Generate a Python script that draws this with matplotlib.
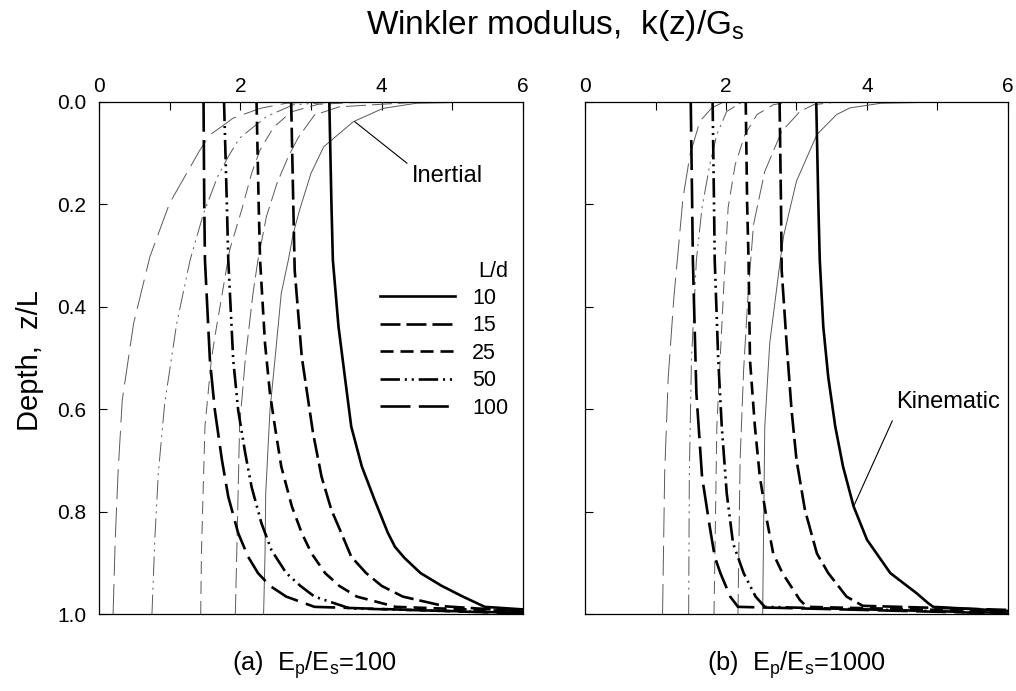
import matplotlib.pyplot as plt

# --- fonts / line defaults ---
plt.rcParams['font.family'] = ['Liberation Sans', 'DejaVu Sans']
plt.rcParams['mathtext.fontset'] = 'custom'
plt.rcParams['mathtext.rm'] = 'Liberation Sans'
plt.rcParams['mathtext.it'] = 'Liberation Sans:italic'
plt.rcParams['lines.scale_dashes'] = False

# --- data (z/L, k(z)/Gs) ---
LD_LABELS = ['10', '15', '25', '50', '100']
Y_TICKS = [0.0, 0.2, 0.4, 0.6, 0.8, 1.0]
X_MAJOR = [0, 2, 4, 6]
X_MINOR = [1, 3, 5]

# (a) Ep/Es=100, kinematic (thick)
ka10_z = [0.0, 0.2, 0.309, 0.439, 0.537, 0.634, 0.712, 0.777, 0.842, 0.869, 0.89, 0.92, 0.945, 0.966, 0.986, 0.991]
ka10_k = [3.26, 3.29, 3.31, 3.39, 3.48, 3.57, 3.72, 3.90, 4.09, 4.19, 4.32, 4.55, 4.85, 5.15, 5.46, 6.0]
ka15_z = [0.0, 0.2, 0.329, 0.498, 0.582, 0.647, 0.732, 0.797, 0.842, 0.888, 0.92, 0.945, 0.966, 0.985, 0.995]
ka15_k = [2.72, 2.75, 2.77, 2.87, 2.96, 3.03, 3.15, 3.29, 3.43, 3.57, 3.78, 4.00, 4.30, 4.90, 6.0]
ka25_z = [0.0, 0.2, 0.309, 0.472, 0.569, 0.634, 0.712, 0.79, 0.842, 0.882, 0.92, 0.945, 0.966, 0.986, 0.995]
ka25_k = [2.23, 2.26, 2.28, 2.35, 2.42, 2.49, 2.58, 2.73, 2.87, 3.01, 3.20, 3.40, 3.65, 4.20, 6.0]
ka50_z = [0.0, 0.2, 0.309, 0.504, 0.602, 0.686, 0.752, 0.823, 0.875, 0.92, 0.945, 0.966, 0.989, 0.998]
ka50_k = [1.77, 1.81, 1.83, 1.90, 1.97, 2.07, 2.16, 2.30, 2.44, 2.65, 2.85, 3.05, 3.55, 6.0]
ka100_z = [0.0, 0.2, 0.309, 0.504, 0.602, 0.699, 0.771, 0.842, 0.888, 0.92, 0.945, 0.966, 0.986, 0.999]
ka100_k = [1.48, 1.49, 1.50, 1.57, 1.64, 1.74, 1.83, 1.97, 2.11, 2.25, 2.42, 2.65, 3.05, 6.0]

# (a) Ep/Es=100, inertial (thin)
ia10_z = [1.0, 0.882, 0.764, 0.602, 0.504, 0.374, 0.309, 0.257, 0.211, 0.14, 0.088, 0.039, 0.013, 0.003, 0.0]
ia10_k = [2.33, 2.35, 2.36, 2.42, 2.49, 2.58, 2.68, 2.75, 2.84, 3.00, 3.18, 3.60, 4.02, 4.49, 5.6]
ia15_z = [1.0, 0.882, 0.634, 0.504, 0.374, 0.309, 0.224, 0.159, 0.107, 0.07, 0.026, 0.01, 0.0]
ia15_k = [1.93, 1.95, 1.99, 2.07, 2.18, 2.25, 2.37, 2.52, 2.68, 2.82, 3.05, 3.40, 4.6]
ia25_z = [1.0, 0.882, 0.634, 0.504, 0.459, 0.289, 0.211, 0.14, 0.094, 0.05, 0.02, 0.005, 0.0]
ia25_k = [1.44, 1.45, 1.50, 1.59, 1.64, 1.85, 2.02, 2.16, 2.28, 2.47, 2.72, 3.10, 3.9]
ia50_z = [1.0, 0.855, 0.725, 0.589, 0.433, 0.309, 0.218, 0.146, 0.107, 0.071, 0.029, 0.006, 0.0]
ia50_k = [0.75, 0.79, 0.84, 0.93, 1.10, 1.29, 1.48, 1.68, 1.83, 1.99, 2.37, 2.75, 3.4]
ia100_z = [1.0, 0.855, 0.725, 0.582, 0.433, 0.303, 0.198, 0.14, 0.094, 0.065, 0.032, 0.013, 0.003, 0.0]
ia100_k = [0.20, 0.23, 0.27, 0.33, 0.49, 0.72, 1.00, 1.24, 1.43, 1.57, 1.90, 2.28, 2.65, 3.1]

# (b) Ep/Es=1000, kinematic (thick)
kb10_z = [0.0, 0.2, 0.309, 0.439, 0.537, 0.634, 0.712, 0.79, 0.855, 0.92, 0.959, 0.979, 0.986, 0.994]
kb10_k = [3.28, 3.31, 3.33, 3.38, 3.45, 3.55, 3.66, 3.81, 4.00, 4.33, 4.70, 4.87, 4.94, 6.0]
kb15_z = [0.0, 0.2, 0.329, 0.472, 0.602, 0.699, 0.797, 0.882, 0.92, 0.966, 0.984, 0.992]
kb15_k = [2.76, 2.78, 2.79, 2.86, 2.93, 3.00, 3.12, 3.29, 3.45, 3.71, 3.94, 6.0]
kb25_z = [0.0, 0.2, 0.309, 0.504, 0.634, 0.732, 0.817, 0.882, 0.92, 0.973, 0.986, 0.995]
kb25_k = [2.28, 2.30, 2.32, 2.34, 2.41, 2.48, 2.58, 2.67, 2.80, 3.05, 3.15, 6.0]
kb50_z = [0.0, 0.2, 0.309, 0.504, 0.634, 0.764, 0.862, 0.92, 0.966, 0.986, 0.998]
kb50_k = [1.81, 1.83, 1.84, 1.89, 1.94, 2.01, 2.10, 2.25, 2.42, 2.55, 6.0]
kb100_z = [0.0, 0.2, 0.309, 0.569, 0.732, 0.83, 0.888, 0.92, 0.966, 0.986, 0.999]
kb100_k = [1.50, 1.52, 1.53, 1.58, 1.66, 1.77, 1.84, 1.92, 2.06, 2.17, 6.0]

# (b) Ep/Es=1000, inertial (thin)
ib10_z = [1.0, 0.634, 0.472, 0.309, 0.26, 0.155, 0.064, 0.025, 0.012, 0.003, 0.0]
ib10_k = [2.52, 2.55, 2.62, 2.77, 2.82, 3.00, 3.29, 3.57, 3.76, 4.20, 5.3]
ib15_z = [1.0, 0.699, 0.524, 0.383, 0.24, 0.136, 0.058, 0.019, 0.006, 0.0]
ib15_k = [2.17, 2.20, 2.25, 2.31, 2.39, 2.55, 2.79, 3.05, 3.24, 3.6]
ib25_z = [1.0, 0.634, 0.439, 0.357, 0.207, 0.123, 0.064, 0.025, 0.006, 0.0]
ib25_k = [1.83, 1.87, 1.94, 1.97, 2.03, 2.13, 2.27, 2.44, 2.67, 2.9]
ib50_z = [1.0, 0.725, 0.504, 0.309, 0.207, 0.123, 0.064, 0.019, 0.003, 0.0]
ib50_k = [1.47, 1.48, 1.51, 1.58, 1.66, 1.77, 1.87, 2.01, 2.20, 2.4]
ib100_z = [1.0, 0.725, 0.539, 0.383, 0.188, 0.103, 0.038, 0.012, 0.001, 0.0]
ib100_k = [1.10, 1.13, 1.18, 1.26, 1.39, 1.49, 1.63, 1.80, 1.96, 2.1]

# line style per L/d (dash lengths in points)
DASHES = ['solid',
          (0, (14.4, 4.3)),
          (0, (9.4, 5.0)),
          (0, (14, 3.5, 1.5, 3.5, 1.5, 3.5)),
          (0, (21.6, 6.0))]
THICK = 1.9
THIN = 0.7
THIN_COLOR = '0.35'


def draw_panel(ax, kin, ine, left_labels):
    """inertial (thin) first, then kinematic (thick) on top"""
    for (k, z), ls in zip(ine, DASHES):
        ax.plot(k, z, color=THIN_COLOR, lw=THIN, linestyle=ls, dash_capstyle='butt')
    handles = []
    for (k, z), ls in zip(kin, DASHES):
        ln, = ax.plot(k, z, color='black', lw=THICK, linestyle=ls, dash_capstyle='butt')
        handles.append(ln)

    ax.set_xlim(0, 6)
    ax.set_ylim(1, 0)
    ax.set_xticks(X_MAJOR)
    ax.set_xticks(X_MINOR, minor=True)
    ax.set_yticks(Y_TICKS)
    ax.set_yticklabels([f'{v:.1f}' for v in Y_TICKS])
    ax.tick_params(which='both', direction='in', length=6, width=0.8,
                   top=True, bottom=False, right=False, left=True,
                   labeltop=True, labelbottom=False, labelleft=left_labels,
                   labelsize=15)
    ax.tick_params(axis='x', pad=4)
    ax.tick_params(axis='y', pad=9)
    for sp in ax.spines.values():
        sp.set_linewidth(0.9)
    return handles


fig = plt.figure(figsize=(10.16, 6.91), dpi=100)
ax_a = fig.add_axes([0.0974, 0.1114, 0.4173, 0.7414])
ax_b = fig.add_axes([0.5758, 0.1114, 0.4163, 0.7414])

kin_a = [(ka10_k, ka10_z), (ka15_k, ka15_z), (ka25_k, ka25_z), (ka50_k, ka50_z), (ka100_k, ka100_z)]
ine_a = [(ia10_k, ia10_z), (ia15_k, ia15_z), (ia25_k, ia25_z), (ia50_k, ia50_z), (ia100_k, ia100_z)]
kin_b = [(kb10_k, kb10_z), (kb15_k, kb15_z), (kb25_k, kb25_z), (kb50_k, kb50_z), (kb100_k, kb100_z)]
ine_b = [(ib10_k, ib10_z), (ib15_k, ib15_z), (ib25_k, ib25_z), (ib50_k, ib50_z), (ib100_k, ib100_z)]

handles = draw_panel(ax_a, kin_a, ine_a, True)
draw_panel(ax_b, kin_b, ine_b, False)

# legend L/d
leg = ax_a.legend(handles, LD_LABELS, title='L/d', frameon=False, loc='upper left',
                  bbox_to_anchor=(0.662, 0.69), fontsize=15.5, title_fontsize=15.5,
                  handlelength=3.5, handletextpad=0.8, labelspacing=0.3,
                  borderpad=0, borderaxespad=0)
leg._legend_box.align = 'right'

# annotations
ax_a.annotate('Inertial', xy=(3.62, 0.039), xytext=(4.43, 0.145), fontsize=17,
              ha='left', va='center',
              arrowprops=dict(arrowstyle='-', lw=0.8, color='black',
                              shrinkA=2, shrinkB=0, relpos=(0, 0.9)))
ax_b.annotate('Kinematic', xy=(3.81, 0.79), xytext=(4.41, 0.586), fontsize=17,
              ha='left', va='center',
              arrowprops=dict(arrowstyle='-', lw=0.8, color='black',
                              shrinkA=4, shrinkB=0, relpos=(0, 0)))

# titles / labels
fig.text(0.547, 0.963, r'Winkler modulus,  k(z)/G$_\mathrm{s}$', ha='center', va='center', fontsize=24)
fig.text(0.03, 0.478, 'Depth,  z/L', rotation=90, ha='center', va='center', fontsize=21)
fig.text(0.309, 0.038, r'(a)  E$_\mathrm{p}$/E$_\mathrm{s}$=100', ha='center', va='center', fontsize=18.3)
fig.text(0.784, 0.038, r'(b)  E$_\mathrm{p}$/E$_\mathrm{s}$=1000', ha='center', va='center', fontsize=18.3)

fig.savefig('out.png', dpi=100)
